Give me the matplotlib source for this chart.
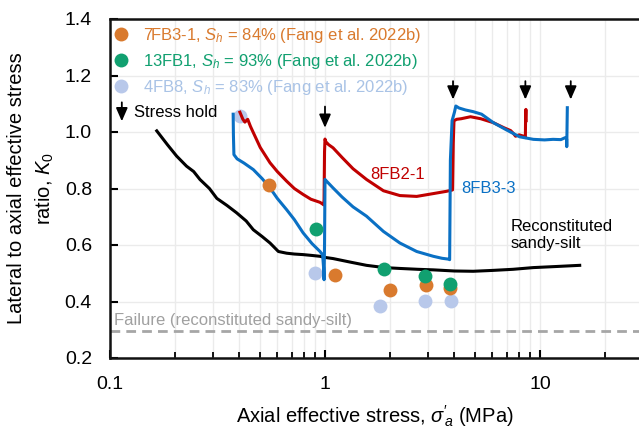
import matplotlib
matplotlib.use("Agg")
import matplotlib.pyplot as plt
from matplotlib.lines import Line2D
import numpy as np

plt.rcParams["font.family"] = ["Liberation Sans", "DejaVu Sans"]
plt.rcParams["mathtext.fontset"] = "custom"
plt.rcParams["mathtext.rm"] = "Liberation Sans"
plt.rcParams["mathtext.it"] = "Liberation Sans:italic"
plt.rcParams["mathtext.bf"] = "Liberation Sans:bold"

# ---- K0 paths (axial effective stress in MPa, K0) ----
recon_stress = [0.165, 0.185, 0.204, 0.227, 0.245, 0.262, 0.29, 0.314, 0.35, 0.388, 0.43,
                0.464, 0.51, 0.555, 0.607, 0.663, 0.72, 0.791, 0.87, 0.948, 1.0, 1.09,
                1.3, 1.56, 1.89, 2.23, 2.7, 3.19, 4.0, 4.89, 6.0, 7.5, 9.3, 12.0, 15.3]
recon_k0 = [1.004, 0.955, 0.915, 0.879, 0.86, 0.832, 0.80, 0.765, 0.74, 0.714, 0.685,
            0.654, 0.63, 0.607, 0.577, 0.571, 0.568, 0.566, 0.563, 0.56, 0.556, 0.552,
            0.54, 0.528, 0.52, 0.517, 0.514, 0.512, 0.508, 0.507, 0.51, 0.514, 0.52, 0.524, 0.528]

fb21_stress = [0.402, 0.415, 0.424, 0.437, 0.45, 0.464, 0.5, 0.555, 0.6, 0.663, 0.72,
               0.791, 0.86, 0.948, 0.975, 0.985, 0.99, 0.995, 1.0, 1.01, 1.04, 1.09, 1.2,
               1.35, 1.56, 1.87, 2.23, 2.67, 3.19, 3.67, 3.92, 3.95, 3.98, 4.1, 4.3,
               4.75, 5.3, 6.07, 6.8, 7.3, 7.52, 7.7, 8.0, 8.4, 8.55, 8.57, 8.6, 8.62]
fb21_k0 = [1.07, 1.045, 1.035, 1.045, 1.02, 0.998, 0.945, 0.891, 0.86, 0.826, 0.80,
           0.779, 0.762, 0.751, 0.745, 0.742, 0.76, 0.93, 0.975, 0.965, 0.955, 0.944, 0.91,
           0.87, 0.832, 0.792, 0.775, 0.772, 0.782, 0.79, 0.795, 0.96, 1.04, 1.045, 1.047,
           1.054, 1.047, 1.033, 1.015, 1.005, 0.995, 0.985, 0.99, 0.985, 0.98, 1.05, 1.08, 1.04]

fb33_stress = [0.374, 0.375, 0.377, 0.39, 0.42, 0.464, 0.51, 0.555, 0.6, 0.663, 0.72,
               0.791, 0.87, 0.948, 0.975, 0.985, 0.99, 0.995, 1.0, 1.02, 1.09, 1.2, 1.35,
               1.56, 1.87, 2.23, 2.67, 3.19, 3.5, 3.75, 3.8, 3.83, 3.9, 4.0, 4.06, 4.2,
               4.5, 4.89, 5.35, 6.07, 7.0, 8.04, 9.31, 10.5, 11.5, 12.5, 13.1, 13.3, 13.32,
               13.35, 13.4]
fb33_k0 = [1.063, 0.99, 0.92, 0.905, 0.89, 0.867, 0.835, 0.802, 0.765, 0.725, 0.69,
           0.643, 0.605, 0.577, 0.565, 0.52, 0.477, 0.6, 0.832, 0.825, 0.802, 0.77, 0.735,
           0.702, 0.648, 0.607, 0.577, 0.56, 0.553, 0.55, 0.548, 0.9, 1.04, 1.07, 1.092,
           1.085, 1.078, 1.072, 1.063, 1.033, 1.007, 0.983, 0.974, 0.972, 0.974, 0.973,
           0.98, 0.975, 0.948, 1.0, 1.086]

# ---- in-situ samples (Fang et al. 2022b) ----
s7fb31_stress = [0.551, 1.113, 2.005, 2.95, 3.81]
s7fb31_k0 = [0.814, 0.495, 0.441, 0.459, 0.447]
s13fb1_stress = [0.905, 1.888, 2.92, 3.81]
s13fb1_k0 = [0.657, 0.516, 0.489, 0.462]
s4fb8_stress = [0.402, 0.899, 1.80, 2.92, 3.86]
s4fb8_k0 = [1.057, 0.501, 0.385, 0.403, 0.403]

hold_stress = [1.0, 3.94, 8.55, 13.9]
failure_k0 = 0.296

c_orange = "#D97A2E"
c_green = "#11A070"
c_lblue = "#B8C8EA"
c_lblue_txt = "#A9C3E6"
c_red = "#C00000"
c_blue = "#0A70C4"
c_gray = "#A6A6A6"

fig = plt.figure(figsize=(6.39, 4.32), dpi=100)
ax = fig.add_axes([110 / 639, 74 / 432, 529 / 639, 339 / 432])

ax.set_xscale("log")
ax.set_xlim(0.1, 10 ** 1.4605)
ax.set_ylim(0.2, 1.4)

ax.grid(True, which="major", axis="both", color="#EBEBEB", lw=1.0, zorder=0)
ax.grid(True, which="minor", axis="x", color="#EBEBEB", lw=1.0, zorder=0)
ax.set_axisbelow(True)

ax.axhline(failure_k0, color=c_gray, lw=2.0, ls=(0, (3.5, 2.2)), zorder=1)
ax.text(0.104, failure_k0 + 0.022, "Failure (reconstituted sandy-silt)",
        color="#A0A0A0", fontsize=12, va="baseline", ha="left")

ax.plot(recon_stress, recon_k0, color="black", lw=2.2, zorder=3)
ax.plot(fb21_stress, fb21_k0, color=c_red, lw=2.2, zorder=3)
ax.plot(fb33_stress, fb33_k0, color=c_blue, lw=2.2, zorder=3)

ms = 10
ax.plot(s7fb31_stress, s7fb31_k0, "o", color=c_orange, ms=ms, mec="none", zorder=4)
ax.plot(s13fb1_stress, s13fb1_k0, "o", color=c_green, ms=ms, mec="none", zorder=5)
ax.plot(s4fb8_stress, s4fb8_k0, "o", color=c_lblue, ms=ms, mec="none", zorder=2)

arrow_style = "-|>,head_length=0.8,head_width=0.35"

# stress-hold arrows
for i, xs in enumerate(hold_stress):
    top, tip = (1.09, 1.015) if i == 0 else (1.18, 1.115)
    ax.annotate("", xy=(xs, tip), xytext=(xs, top),
                arrowprops=dict(arrowstyle=arrow_style, color="black", lw=1.3,
                                shrinkA=0, shrinkB=0), zorder=6)

ax.text(1.62, 0.85, "8FB2-1", color=c_red, fontsize=12, va="center", ha="left")
ax.text(4.29, 0.80, "8FB3-3", color=c_blue, fontsize=12, va="center", ha="left")
ax.text(7.3, 0.635, "Reconstituted\nsandy-silt", color="black", fontsize=12,
        va="center", ha="left", linespacing=1.15)

# legend
handles = [
    Line2D([], [], ls="none", marker="o", ms=ms, color=c_orange, mec="none"),
    Line2D([], [], ls="none", marker="o", ms=ms, color=c_green, mec="none"),
    Line2D([], [], ls="none", marker="o", ms=ms, color=c_lblue, mec="none"),
]
labels = [
    r"7FB3-1, $S_h$ = 84% (Fang et al. 2022b)",
    r"13FB1, $S_h$ = 93% (Fang et al. 2022b)",
    r"4FB8, $S_h$ = 83% (Fang et al. 2022b)",
]
leg = ax.legend(handles, labels, loc="upper left", bbox_to_anchor=(-0.01, 1.008),
                frameon=False, fontsize=12, handlelength=0.8, handletextpad=0.9,
                labelspacing=0.42, borderpad=0.4, borderaxespad=0.2)
for t, col in zip(leg.get_texts(), [c_orange, c_green, c_lblue_txt]):
    t.set_color(col)

ax.annotate("", xy=(0.1135, 1.038), xytext=(0.1135, 1.105),
            arrowprops=dict(arrowstyle=arrow_style, color="black", lw=1.3,
                            shrinkA=0, shrinkB=0))
ax.text(0.129, 1.07, "Stress hold", fontsize=12, va="center", ha="left")

# axes styling
for side in ["left", "bottom", "top"]:
    ax.spines[side].set_linewidth(1.8)
    ax.spines[side].set_color("#111111")
ax.spines["right"].set_visible(False)

ax.set_yticks(np.arange(0.2, 1.41, 0.2))
ax.set_yticklabels([f"{v:.1f}" for v in np.arange(0.2, 1.41, 0.2)])
ax.set_xticks([0.1, 1, 10])
ax.set_xticklabels(["0.1", "1", "10"])
ax.tick_params(axis="both", which="major", direction="in", length=6, width=1.5,
               labelsize=14, pad=13)
ax.tick_params(axis="x", which="minor", direction="in", length=4, width=1.3)
ax.tick_params(axis="x", which="major", pad=13)

ax.set_xlabel(r"Axial effective stress, $\sigma'\!_a$ (MPa)", fontsize=14.5, labelpad=7)
ax.set_ylabel("Lateral to axial effective stress\nratio, $K_0$", fontsize=14.5,
              labelpad=6, linespacing=1.5)

fig.savefig("out.png", dpi=100)
